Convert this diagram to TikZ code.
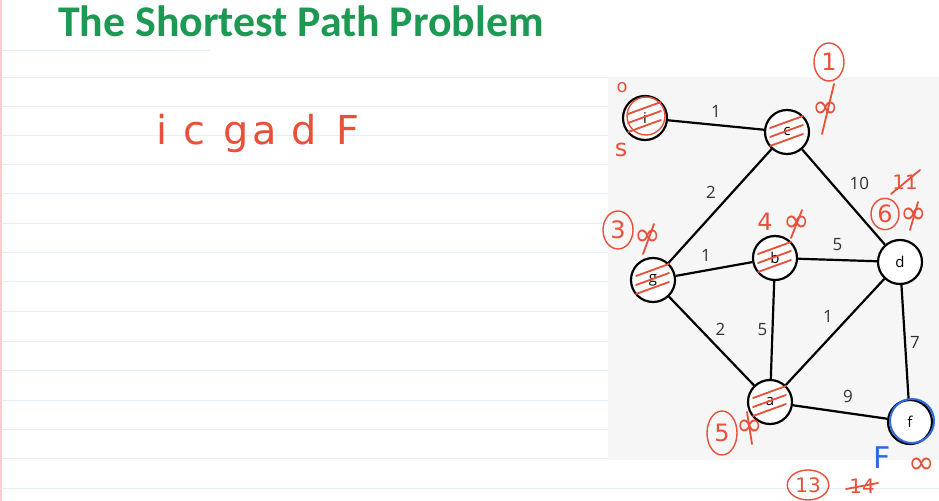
\documentclass[tikz,border=0pt]{standalone}
\usepackage{fontspec}
\setmainfont{Carlito}
\newfontfamily\labelfont{Open Sans}
\newfontfamily\handfont{DejaVu Sans}
\usetikzlibrary{shapes.geometric, positioning}

\definecolor{titlegreen}{RGB}{29,153,83}
\definecolor{pen}{RGB}{232,80,58}
\definecolor{bluepen}{RGB}{45,105,225}
\definecolor{rulecol}{RGB}{228,238,250}
\definecolor{margincol}{RGB}{250,205,205}
\definecolor{panelcol}{RGB}{246,246,246}

\begin{document}
\begin{tikzpicture}[
    x=1bp, y=-1bp,
    vertex/.style={circle, draw, line width=2.2bp, fill=white, minimum size=44bp, inner sep=0pt, font=\labelfont\fontsize{15}{15}\selectfont},
    edge/.style={line width=2.2bp},
    weight/.style={font=\labelfont\fontsize{17}{17}\selectfont, text=black!80, inner sep=1bp},
    hand/.style={text=pen, font=\handfont\fontsize{24}{24}\selectfont, inner sep=1bp},
    infty/.style={hand, font=\handfont\fontsize{32}{32}\selectfont, inner sep=0pt},
    ring/.style={draw=pen, line width=1.4bp, ellipse, inner sep=2bp, minimum width=30bp, minimum height=38bp},
    stroke/.style={pen, line width=1.8bp, line cap=round},
    ruled/.style={rulecol, line width=1bp}
]
\useasboundingbox (0,0) rectangle (939,501);
\fill[white] (0,0) rectangle (939,501);

% ============= NOTEBOOK PAGE =============
\foreach \y in {78,107,136,165,194,224,253,282,312,341,370,400,429,458,488} {
    \draw[ruled] (0,\y) -- (939,\y);
}
\draw[ruled] (0,51) -- (210,51);
\draw[margincol, line width=1.2bp] (1,0) -- (1,501);

\node[anchor=base west, text=titlegreen, font=\bfseries\fontsize{44}{44}\selectfont, inner sep=0pt] (title) at (58,37) {The Shortest Path Problem};

% visiting order
\foreach \ch/\x in {i/162,c/194,g/236,a/265,d/304,F/348} {
    \node[hand, font=\handfont\fontsize{40}{40}\selectfont, anchor=base] (ord\ch) at (\x,145) {\ch};
}

% ============= GRAPH =============
\fill[panelcol] (608,77) rectangle (939,460);

\node[vertex] (i) at (645,118) {i};
\node[vertex] (c) at (787,132) {c};
\node[vertex] (g) at (653,280) {g};
\node[vertex] (b) at (775,258) {b};
\node[vertex] (d) at (900,262) {d};
\node[vertex] (a) at (770,402) {a};
\node[vertex] (f) at (910,422) {f};

\draw[edge] (i) -- node[weight, above=5bp] (wic) {1} (c);
\draw[edge] (c) -- node[weight, above left=5bp and 2bp] (wcg) {2} (g);
\draw[edge] (c) -- node[weight, above right=5bp and 4bp] (wcd) {10} (d);
\draw[edge] (g) -- node[weight, above=5bp, xshift=-8bp] (wgb) {1} (b);
\draw[edge] (b) -- node[weight, above=7bp] (wbd) {5} (d);
\draw[edge] (g) -- node[weight, above right=3bp and 2bp] (wga) {2} (a);
\draw[edge] (b) -- node[weight, left=3bp] (wba) {5} (a);
\draw[edge] (a) -- node[weight, above left=7bp and 0bp] (wad) {1} (d);
\draw[edge] (d) -- node[weight, right=3bp] (wdf) {7} (f);
\draw[edge] (a) -- node[weight, above=7bp, xshift=8bp] (waf) {9} (f);

% ============= HAND NOTES =============
% hatching of visited vertices
\foreach \n in {i,c,g,b,a} {
    \foreach \d in {-10,-1,8} {
        \draw[stroke] ([shift={(-17,\d+6)}]\n.center) -- ++(33,-12);
    }
}
\draw[pen, line width=1.4bp] ([shift={(1,-2)}]i.center) circle (19bp);

\node[hand, font=\handfont\fontsize{18}{18}\selectfont] (dsti) at (622,88) {o};
\node[hand] (src) at (621,150) {s};

\node[hand, ring] (ordc) at (829,62) {1};
\node[infty] (infc) at (826,110) {∞};
\draw[stroke] ([shift={(8,-26)}]infc.center) -- ([shift={(-4,24)}]infc.center);

\node[hand, font=\handfont\fontsize{20}{20}\selectfont] (dstd) at (905,182) {11};
\draw[stroke] ([shift={(-14,12)}]dstd.center) -- ([shift={(15,-12)}]dstd.center);
\node[hand, ring, minimum width=28bp, minimum height=30bp] (ordd) at (885,214) {6};
\node[infty] (infd) at (914,216) {∞};
\draw[stroke] ([shift={(-4,14)}]infd.center) -- ([shift={(4,-14)}]infd.center);

\node[hand, ring] (ordg) at (618,230) {3};
\node[infty] (infg) at (648,238) {∞};
\draw[stroke] ([shift={(-5,16)}]infg.center) -- ([shift={(6,-14)}]infg.center);

\node[hand] (dstb) at (765,222) {4};
\node[infty] (infb) at (797,224) {∞};
\draw[stroke] ([shift={(-6,14)}]infb.center) -- ([shift={(5,-14)}]infb.center);

\node[hand, ring, minimum height=44bp] (orda) at (722,433) {5};
\node[infty] (infa) at (750,428) {∞};
\draw[stroke] ([shift={(-3,-16)}]infa.center) -- ([shift={(2,16)}]infa.center);

\draw[bluepen, line width=2bp] ([shift={(2,-1)}]f.center) circle (22bp);
\node[text=bluepen, font=\handfont\fontsize{30}{30}\selectfont] (mark) at (882,458) {F};
\node[hand, ring, font=\handfont\fontsize{20}{20}\selectfont, minimum height=30bp] (ordf) at (808,485) {13};
\node[hand, font=\handfont\fontsize{20}{20}\selectfont] (dstf) at (862,486) {14};
\draw[stroke] ([shift={(-16,3)}]dstf.center) -- ([shift={(16,-3)}]dstf.center);
\node[infty] (inff) at (922,466) {∞};
\end{tikzpicture}
\end{document}
